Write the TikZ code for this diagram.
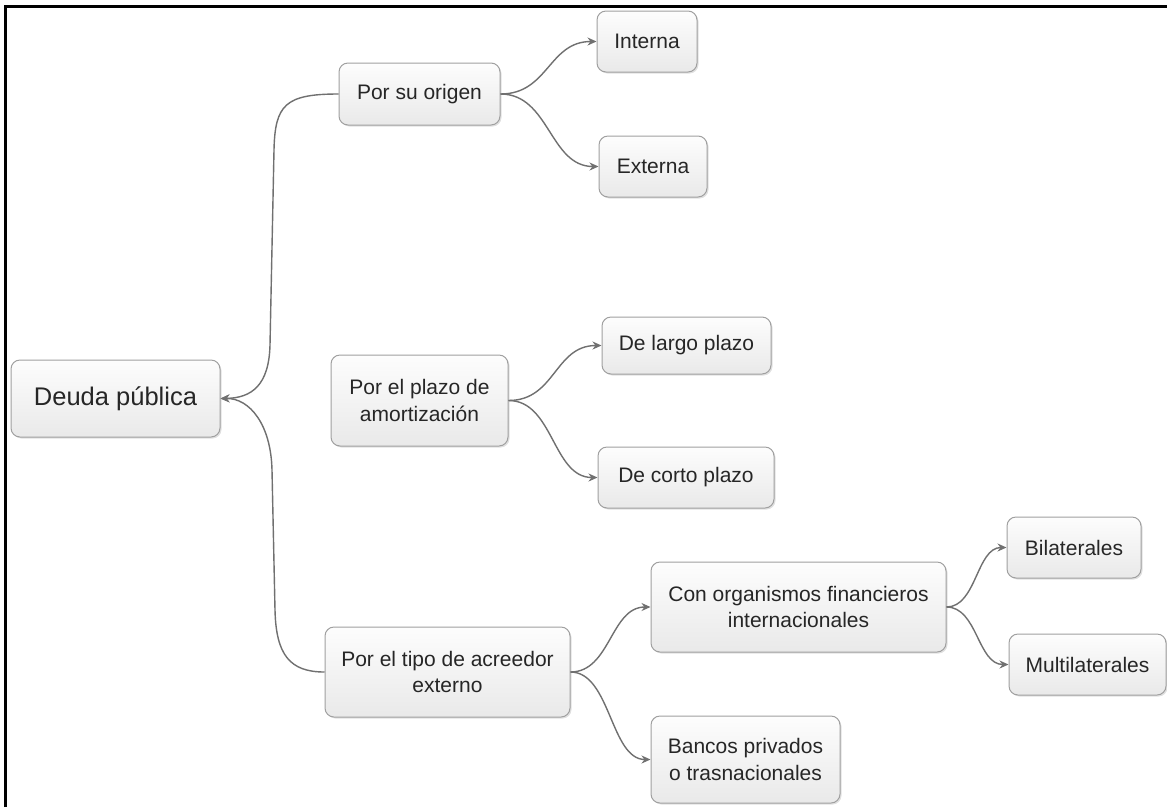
\documentclass[tikz,border=0pt]{standalone}
\usepackage{fontspec}
\setmainfont{Liberation Sans}
\usetikzlibrary{arrows.meta,shadows}
\definecolor{boxline}{HTML}{A0A0A0}
\definecolor{conncol}{HTML}{707070}
\definecolor{boxtop}{HTML}{FDFDFD}
\definecolor{boxbot}{HTML}{E9E9E9}
\begin{document}
\begin{tikzpicture}[x=1pt,y=-1pt,
 box/.style={draw=boxline, line width=1pt, rounded corners=9pt,
   top color=boxtop, bottom color=boxbot,
   drop shadow={shadow xshift=1.5pt,shadow yshift=-1.5pt,fill=black,opacity=0.12},
   align=center, inner sep=0pt, text=black!85,
   font=\fontsize{21}{26.5}\selectfont},
 conn/.style={draw=conncol, line width=1.4pt, -{Stealth[length=9pt,width=8pt]}}]
\useasboundingbox (0,0) rectangle (1167,807);
\fill[white] (0,0) rectangle (1167,807);
\draw[line width=3pt] (5,807) -- (5,6) -- (1167,6);

\node[box, minimum width=209pt, minimum height=77pt, font=\fontsize{25.5}{30}\selectfont] (root) at (115.5,398.5) {Deuda pública};
\node[box, minimum width=161pt, minimum height=62pt] (origen) at (419.5,94) {Por su origen};
\node[box, minimum width=100pt, minimum height=61pt] (interna) at (647,41.5) {Interna};
\node[box, minimum width=108pt, minimum height=61pt] (externa) at (653,166.5) {Externa};
\node[box, minimum width=177pt, minimum height=91pt] (plazo) at (419.5,400.5) {Por el plazo de\\amortización};
\node[box, minimum width=169pt, minimum height=57pt] (largo) at (686.5,345.5) {De largo plazo};
\node[box, minimum width=176pt, minimum height=61pt] (corto) at (686,477.5) {De corto plazo};
\node[box, minimum width=245pt, minimum height=90pt] (tipo) at (447.5,672) {Por el tipo de acreedor\\externo};
\node[box, minimum width=295pt, minimum height=90pt] (con) at (798.5,607) {Con organismos financieros\\internacionales};
\node[box, minimum width=189pt, minimum height=87pt] (bancos) at (745.5,759.5) {Bancos privados\\o trasnacionales};
\node[box, minimum width=134pt, minimum height=61pt] (bilat) at (1074,547.5) {Bilaterales};
\node[box, minimum width=157pt, minimum height=61pt] (multi) at (1087.5,664.5) {Multilaterales};

\coordinate (t1) at (274,150);
\coordinate (t2) at (270,345);
\coordinate (b1) at (275,610);
\coordinate (b2) at (272,470);
\draw[conn] (origen.west) .. controls (285,94) and (275,105) .. (t1) -- (t2) .. controls (269,385) and (252,398) .. (root.east);
\draw[conn] (tipo.west) .. controls (290,672) and (276,655) .. (b1) -- (b2) .. controls (271,425) and (250,398) .. (root.east);
\draw[conn] (origen.east) .. controls +(48,0) and +(-48,0) .. (interna.west);
\draw[conn] (origen.east) .. controls +(49,0) and +(-49,0) .. (externa.west);
\draw[conn] (plazo.east) .. controls +(47,0) and +(-47,0) .. (largo.west);
\draw[conn] (plazo.east) .. controls +(45,0) and +(-45,0) .. (corto.west);
\draw[conn] (tipo.east) .. controls +(40,0) and +(-40,0) .. (con.west);
\draw[conn] (tipo.east) .. controls +(40,0) and +(-40,0) .. (bancos.west);
\draw[conn] (con.east) .. controls +(30,0) and +(-30,0) .. (bilat.west);
\draw[conn] (con.east) .. controls +(31,0) and +(-31,0) .. (multi.west);
\end{tikzpicture}
\end{document}
